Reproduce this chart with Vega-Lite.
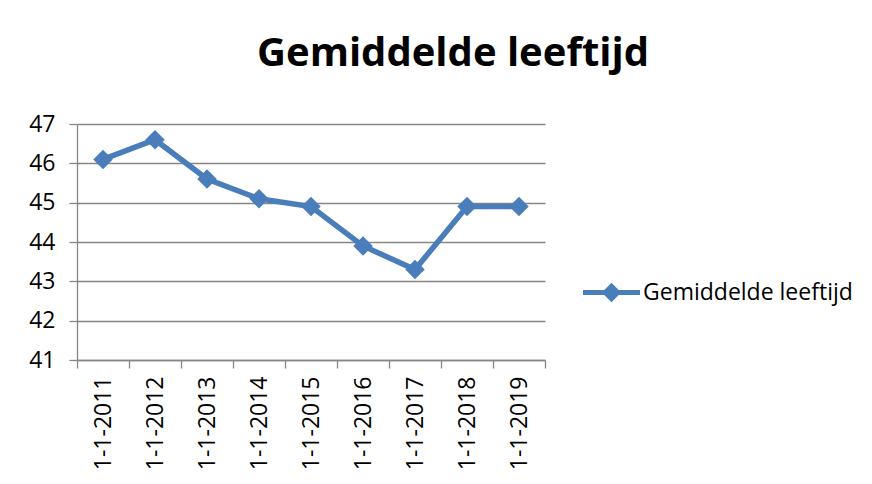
{
  "$schema": "https://vega.github.io/schema/vega-lite/v6.json",
  "autosize": "none",
  "width": 468,
  "height": 236,
  "padding": {"left": 77, "top": 124, "right": 327, "bottom": 124},
  "background": "white",
  "config": {
    "view": {"stroke": null},
    "font": "Open Sans"
  },
  "title": {
    "text": "Gemiddelde leeftijd",
    "font": "Open Sans",
    "fontSize": 40,
    "fontWeight": "bold",
    "color": "#000000",
    "anchor": "middle",
    "dx": 142,
    "baseline": "alphabetic",
    "offset": 7
  },
  "data": {
    "values": [
      {"datum": "1-1-2011", "leeftijd": 46.1, "reeks": "Gemiddelde leeftijd"},
      {"datum": "1-1-2012", "leeftijd": 46.6, "reeks": "Gemiddelde leeftijd"},
      {"datum": "1-1-2013", "leeftijd": 45.6, "reeks": "Gemiddelde leeftijd"},
      {"datum": "1-1-2014", "leeftijd": 45.1, "reeks": "Gemiddelde leeftijd"},
      {"datum": "1-1-2015", "leeftijd": 44.9, "reeks": "Gemiddelde leeftijd"},
      {"datum": "1-1-2016", "leeftijd": 43.9, "reeks": "Gemiddelde leeftijd"},
      {"datum": "1-1-2017", "leeftijd": 43.3, "reeks": "Gemiddelde leeftijd"},
      {"datum": "1-1-2018", "leeftijd": 44.9, "reeks": "Gemiddelde leeftijd"},
      {"datum": "1-1-2019", "leeftijd": 44.9, "reeks": "Gemiddelde leeftijd"}
    ]
  },
  "mark": {
    "type": "line",
    "strokeWidth": 5.5,
    "strokeJoin": "miter",
    "point": {"shape": "diamond", "size": 380, "filled": true, "color": "#4a7ebb", "opacity": 1}
  },
  "encoding": {
    "x": {
      "field": "datum",
      "type": "ordinal",
      "scale": {"type": "band", "paddingInner": 0, "paddingOuter": 0},
      "axis": {
        "title": null,
        "labelAngle": -90,
        "labelAlign": "right",
        "labelBaseline": "middle",
        "labelFont": "Open Sans",
        "labelFontSize": 23,
        "labelColor": "#000000",
        "labelPadding": 8,
        "tickBand": "extent",
        "tickSize": 8,
        "tickColor": "#868686",
        "tickWidth": 1.3,
        "domainColor": "#868686",
        "domainWidth": 1.3,
        "grid": false
      }
    },
    "y": {
      "field": "leeftijd",
      "type": "quantitative",
      "scale": {"domain": [41, 47], "nice": false, "zero": false},
      "axis": {
        "title": null,
        "values": [41, 42, 43, 44, 45, 46, 47],
        "labelFont": "Open Sans",
        "labelFontSize": 23,
        "labelColor": "#000000",
        "labelPadding": 14,
        "tickSize": 8,
        "tickColor": "#868686",
        "tickWidth": 1.3,
        "domainColor": "#868686",
        "domainWidth": 1.3,
        "grid": true,
        "gridColor": "#868686",
        "gridWidth": 1.3
      }
    },
    "color": {
      "field": "reeks",
      "type": "nominal",
      "scale": {"range": ["#4a7ebb"]},
      "legend": {
        "title": null,
        "orient": "none",
        "legendX": 506,
        "legendY": 140,
        "labelFont": "Open Sans",
        "labelFontSize": 23,
        "labelColor": "#000000",
        "labelOffset": 3,
        "labelLimit": 400,
        "symbolType": "M-1,-0.09H1V0.09H-1Z M0,-0.34L0.34,0L0,0.34L-0.34,0Z",
        "symbolSize": 3249,
        "symbolStrokeWidth": 0,
        "symbolFillColor": "#4a7ebb",
        "encode": {
          "symbols": {"update": {"fill": {"value": "#4a7ebb"}, "stroke": {"value": "transparent"}, "strokeWidth": {"value": 0}}}
        }
      }
    }
  }
}
